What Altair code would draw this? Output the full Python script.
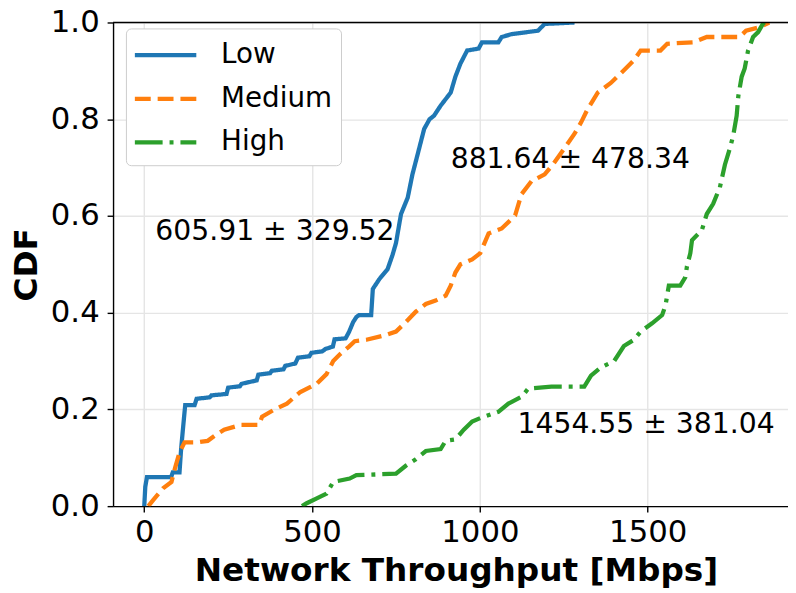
import altair as alt
import pandas as pd

series = ["Low", "Medium", "High"]
colors = ["#1f77b4", "#ff7f0e", "#2ca02c"]

low_x = [0, 3, 8, 80, 85, 105, 110, 118, 122, 150, 156, 195, 200, 245, 250, 285, 290, 335, 340,
         375, 380, 415, 420, 450, 458, 492, 498, 530, 540, 562, 567, 600, 610, 622, 632, 640, 676,
         681, 700, 725, 740, 750, 765, 785, 799, 814, 834, 850, 863, 883, 913, 927, 942, 962, 996,
         1006, 1055, 1065, 1095, 1173, 1193, 1282]
low_y = [0.0, 0.04, 0.06, 0.06, 0.07, 0.07, 0.12, 0.18, 0.209, 0.209, 0.222, 0.225, 0.229, 0.232,
         0.245, 0.248, 0.253, 0.26, 0.272, 0.275, 0.28, 0.283, 0.29, 0.295, 0.307, 0.31, 0.317,
         0.32, 0.325, 0.33, 0.345, 0.347, 0.36, 0.38, 0.391, 0.395, 0.395, 0.449, 0.469, 0.49,
         0.52, 0.544, 0.604, 0.638, 0.686, 0.726, 0.78, 0.80, 0.807, 0.828, 0.855, 0.888, 0.915,
         0.942, 0.946, 0.959, 0.959, 0.97, 0.976, 0.983, 0.997, 1.0]

med_x = [12, 27, 56, 81, 91, 105, 120, 159, 189, 209, 238, 287, 342, 351, 386, 425, 465, 494, 514,
         543, 563, 583, 610, 627, 662, 721, 750, 780, 809, 839, 868, 898, 913, 927, 942, 977, 1001,
         1026, 1065, 1105, 1124, 1154, 1193, 1217, 1252, 1282, 1302, 1321, 1351, 1390, 1420, 1459,
         1479, 1538, 1558, 1636, 1676, 1774, 1793, 1833, 1862]
med_y = [0.0, 0.013, 0.037, 0.05, 0.077, 0.111, 0.132, 0.132, 0.135, 0.145, 0.158, 0.168, 0.168,
         0.185, 0.199, 0.212, 0.236, 0.246, 0.253, 0.273, 0.30, 0.314, 0.33, 0.341, 0.344, 0.354,
         0.361, 0.381, 0.402, 0.418, 0.425, 0.435, 0.456, 0.483, 0.50, 0.51, 0.523, 0.564, 0.574,
         0.601, 0.645, 0.672, 0.686, 0.706, 0.74, 0.770, 0.794, 0.821, 0.855, 0.875, 0.895, 0.922,
         0.942, 0.942, 0.956, 0.959, 0.97, 0.97, 0.983, 0.99, 1.0]

high_x = [470, 484, 514, 543, 563, 612, 632, 750, 780, 809, 839, 883, 898, 927, 952, 977, 1001,
          1055, 1085, 1124, 1144, 1213, 1311, 1331, 1361, 1400, 1429, 1459, 1479, 1513, 1543,
          1553, 1563, 1597, 1612, 1617, 1627, 1632, 1661, 1676, 1695, 1715, 1730, 1745, 1755,
          1765, 1770, 1780, 1789, 1799, 1814, 1829, 1843, 1848]
high_y = [0.0, 0.006, 0.016, 0.026, 0.05, 0.057, 0.064, 0.067, 0.084, 0.097, 0.114, 0.118, 0.135,
          0.138, 0.158, 0.175, 0.182, 0.195, 0.212, 0.226, 0.243, 0.247, 0.247, 0.27, 0.287, 0.30,
          0.331, 0.344, 0.361, 0.378, 0.395, 0.415, 0.456, 0.456, 0.473, 0.496, 0.523, 0.55, 0.57,
          0.604, 0.625, 0.659, 0.706, 0.74, 0.767, 0.807, 0.848, 0.888, 0.905, 0.942, 0.97, 0.98,
          0.997, 1.0]

ann_x = [33, 913, 1112]
ann_y = [0.550, 0.699, 0.1515]
ann_text = ["605.91 ± 329.52", "881.64 ± 478.34", "1454.55 ± 381.04"]

rows = []
for name, xs, ys in [("Low", low_x, low_y), ("Medium", med_x, med_y), ("High", high_x, high_y)]:
    for i, (x, y) in enumerate(zip(xs, ys)):
        rows.append({"series": name, "x": x, "y": y, "order": i})
df = pd.DataFrame(rows)
ann = pd.DataFrame({"x": ann_x, "y": ann_y, "label": ann_text})
top = pd.DataFrame({"y": [1.0]})

FONT = "DejaVu Sans"
xscale = alt.Scale(domain=[-93, 1918], nice=False, zero=False)
yscale = alt.Scale(domain=[0, 1], nice=False, zero=False)

leg = alt.Legend(
    title=None, orient="none", legendX=13, legendY=6,
    symbolType="M-2,0H2", symbolSize=961, symbolStrokeWidth=4.3,
    symbolFillColor="transparent", symbolOffset=13, labelOffset=38,
    labelFontSize=28, labelFont=FONT, labelColor="black",
    rowPadding=12, padding=9, fillColor="white", strokeColor="#cccccc",
    cornerRadius=5,
)

lines = alt.Chart(df).mark_line(strokeWidth=4.3, clip=True).encode(
    x=alt.X("x:Q", scale=xscale,
            axis=alt.Axis(values=[0, 500, 1000, 1500], format="d", title="Network Throughput [Mbps]",
                          labelPadding=6, titleX=346, titleY=75, titleBaseline="alphabetic")),
    y=alt.Y("y:Q", scale=yscale,
            axis=alt.Axis(values=[0, 0.2, 0.4, 0.6, 0.8, 1.0], format=".1f", title="CDF",
                          labelPadding=8, titleX=-77, titleY=244, titleBaseline="alphabetic")),
    color=alt.Color("series:N", scale=alt.Scale(domain=series, range=colors), legend=leg),
    strokeDash=alt.StrokeDash("series:N",
                              scale=alt.Scale(domain=series, range=[[1, 0], [16, 7], [28, 7, 4, 7]]),
                              legend=leg),
    order="order:Q",
)

texts = alt.Chart(ann).mark_text(align="left", baseline="alphabetic", fontSize=28.5, font=FONT,
                                 color="black").encode(
    x=alt.X("x:Q", scale=xscale), y=alt.Y("y:Q", scale=yscale), text="label:N")

topline = alt.Chart(top).mark_rule(color="black", strokeWidth=1.4).encode(
    y=alt.Y("y:Q", scale=yscale))

chart = alt.layer(lines, texts, topline).properties(
    width=681, height=488,
    autosize=alt.AutoSizeParams(type="none"),
    padding={"left": 106, "top": 12, "right": 0, "bottom": 83},
).configure_view(stroke=None).configure_axis(
    labelFont=FONT, labelFontSize=31, labelColor="black",
    titleFont=FONT, titleFontSize=33, titleFontWeight="bold", titleColor="black",
    domainColor="black", domainWidth=1.4, tickColor="black", tickWidth=1.4, tickSize=6,
    gridColor="#e5e5e5", gridWidth=1.4,
)

chart.save("out.html", embed_options={"renderer": "svg", "actions": False})
